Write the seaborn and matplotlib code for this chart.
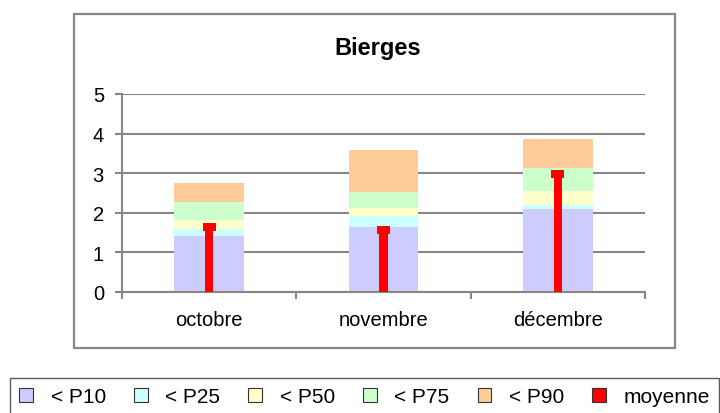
import pandas as pd
import numpy as np
import matplotlib
matplotlib.use("Agg")
import matplotlib.pyplot as plt
import matplotlib.patches as mpatches
import seaborn as sns

plt.rcParams['font.family'] = ['Liberation Sans', 'DejaVu Sans']

# donnees
mois = ["octobre", "novembre", "décembre"]
p10 = [1.42, 1.65, 2.09]
p25 = [1.58, 1.92, 2.19]
p50 = [1.82, 2.11, 2.56]
p75 = [2.28, 2.53, 3.13]
p90 = [2.74, 3.59, 3.87]
moyenne = [1.63, 1.56, 2.98]

series = ["< P10", "< P25", "< P50", "< P75", "< P90"]
couleurs = ["#CCCCFF", "#CCFFFF", "#FFFFCC", "#CCFFCC", "#FFCC99"]
rouge = "#FF0000"
gris = "#868686"

df = pd.DataFrame({"mois": mois, "< P10": p10, "< P25": p25, "< P50": p50,
                   "< P75": p75, "< P90": p90, "moyenne": moyenne})

fig = plt.figure(figsize=(7.2, 4.14), dpi=100)
ax = fig.add_axes([122/720, 1-293/414, 523/720, 198/414])

# cadre du graphique
fig.patches.append(mpatches.Rectangle((74/720, 1-349/414), 601/720, 334/414,
                                      transform=fig.transFigure, fill=False,
                                      edgecolor=gris, linewidth=1.6))

# barres empilees : la plus haute d'abord, puis les autres par dessus
for s, c in reversed(list(zip(series, couleurs))):
    sns.barplot(data=df, x="mois", y=s, color=c, width=0.4, order=mois,
                saturation=1, linewidth=0, edgecolor="none", ax=ax, zorder=2)

# moyenne : tige + chapeau
sns.barplot(data=df, x="mois", y="moyenne", color=rouge, width=0.046, order=mois,
            saturation=1, linewidth=0, ax=ax, zorder=3)
df["cap"] = 0.2
sns.barplot(data=df, x="mois", y="cap", color=rouge, width=0.075, order=mois,
            saturation=1, linewidth=0, ax=ax, zorder=3,
            bottom=np.array(moyenne) - 0.1)

ax.set_xlim(-0.5, 2.5)
ax.set_ylim(0, 5)
ax.set_yticks([0, 1, 2, 3, 4, 5])
ax.set_xlabel("")
ax.set_ylabel("")
ax.set_axisbelow(True)
ax.yaxis.grid(True, color=gris, linewidth=1.5)
ax.xaxis.grid(False)
for sp in ["top", "right"]:
    ax.spines[sp].set_visible(False)
for sp in ["left", "bottom"]:
    ax.spines[sp].set_color(gris)
    ax.spines[sp].set_linewidth(1.5)
ax.set_xticks([-0.5, 0.5, 1.5, 2.5], minor=True)
ax.tick_params(axis="x", which="major", length=0, pad=13, labelsize=14.5)
ax.tick_params(axis="x", which="minor", length=5, width=1.5, color=gris, direction="out")
ax.tick_params(axis="y", length=5, width=1.5, color=gris, pad=8, labelsize=14.5)

fig.text(378/720, 1-49/414, "Bierges", ha="center", va="center",
         fontsize=17, fontweight="bold")

handles = [mpatches.Patch(facecolor=c, edgecolor="#333333", linewidth=0.8) for c in couleurs]
handles.append(mpatches.Patch(facecolor=rouge, edgecolor="#333333", linewidth=0.8))
leg = fig.legend(handles, series + ["moyenne"], loc="upper left",
                 bbox_to_anchor=(10/720, 1-379/414), ncol=6, frameon=True,
                 fancybox=False, edgecolor="#333333", fontsize=15,
                 handlelength=0.65, handleheight=0.65, handletextpad=0.85,
                 columnspacing=1.35, borderpad=0.45, borderaxespad=0)
leg.get_frame().set_linewidth(1.0)

fig.savefig("out.png", dpi=100)
